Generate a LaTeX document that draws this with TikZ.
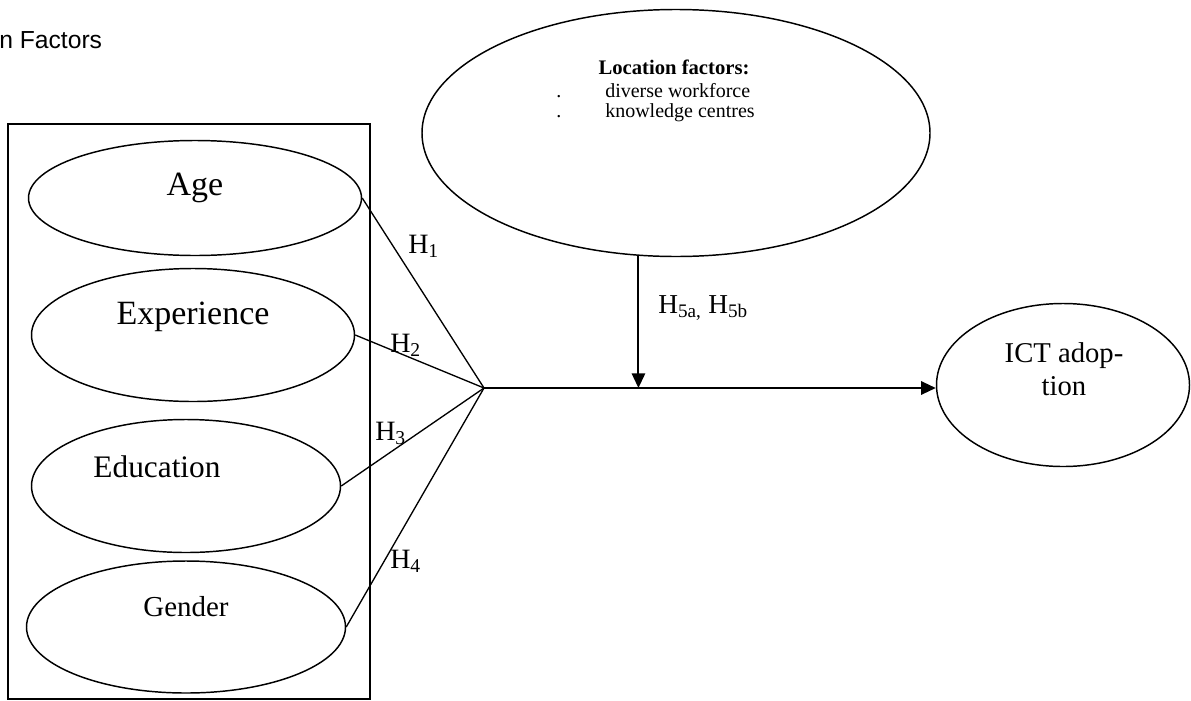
\documentclass[tikz,border=0pt]{standalone}
\usepackage{fontspec}
\setmainfont{Liberation Serif}
\newfontfamily\titlefont{Liberation Sans}
\usetikzlibrary{shapes.geometric,arrows.meta}

\begin{document}
\begin{tikzpicture}[x=0.75pt,y=-0.75pt,
	oval/.style={draw,ellipse,line width=1.1pt,inner sep=0pt},
	link/.style={line width=1pt},
	arr/.style={line width=1.5pt,-{Triangle[length=11pt,width=10pt]}},
	hlabel/.style={anchor=base west,inner sep=0pt,font=\fontsize{21}{25}\selectfont},
	loctext/.style={anchor=base west,inner sep=0pt,font=\fontsize{15}{17}\selectfont}]
	\useasboundingbox (0,0) rectangle (1191,700);

	\node[anchor=base west,inner sep=0pt,font=\titlefont\fontsize{18.5}{22}\selectfont] (title) at (-1,48) {n Factors};

	% frame round the four factors
	\draw[line width=1.1pt] (8,124) rectangle (370,699);

	\node[oval,minimum width=249.75pt,minimum height=86.25pt] (age) at (195,198) {};
	\node[oval,minimum width=242.25pt,minimum height=99.75pt] (exper) at (193,335) {};
	\node[oval,minimum width=231.75pt,minimum height=99.75pt] (educ) at (186,486) {};
	\node[oval,minimum width=239.25pt,minimum height=99pt] (gender) at (186,627) {};
	\node[oval,minimum width=381pt,minimum height=185.25pt] (loc) at (676,133) {};
	\node[oval,minimum width=189.75pt,minimum height=122.25pt] (ict) at (1063,385) {};

	\node[font=\fontsize{25.5}{30}\selectfont] (agetext) at (195,188) {Age};
	\node[font=\fontsize{25.5}{30}\selectfont] (expertext) at (193,317) {Experience};
	\node[font=\fontsize{23.5}{28}\selectfont] (eductext) at (157,467) {Education};
	\node[font=\fontsize{21.7}{26}\selectfont] (gendertext) at (186,607) {Gender};
	\node[align=center,font=\fontsize{21.5}{25}\selectfont] (icttext) at (1064,369) {ICT adop-\\tion};

	\node[anchor=base,inner sep=0pt,font=\fontsize{15.5}{18}\bfseries] (loctitle) at (674,74) {Location factors:};
	\node[loctext] (dot1) at (556,97) {.};
	\node[loctext] (item1) at (605,97) {diverse workforce};
	\node[loctext] (dot2) at (556,117) {.};
	\node[loctext] (item2) at (605,117) {knowledge centres};

	\coordinate (hub) at (484,388);
	\draw[link] (age.east) -- (hub);
	\draw[link] (exper.east) -- (hub);
	\draw[link] (educ.east) -- (hub);
	\draw[link] (gender.east) -- (hub);
	\draw[arr] (hub) -- (hub -| ict.west);
	\draw[arr] (loc.-107) -- (loc.-107 |- hub);

	\node[hlabel] (h1) at (408,253) {H\textsubscript{1}};
	\node[hlabel] (h2) at (390,352) {H\textsubscript{2}};
	\node[hlabel] (h3) at (375,440) {H\textsubscript{3}};
	\node[hlabel] (h4) at (390,568) {H\textsubscript{4}};
	\node[hlabel,font=\fontsize{20.5}{24}\selectfont] (h5) at (658,313) {H\textsubscript{5a,} H\textsubscript{5b}};
\end{tikzpicture}
\end{document}
